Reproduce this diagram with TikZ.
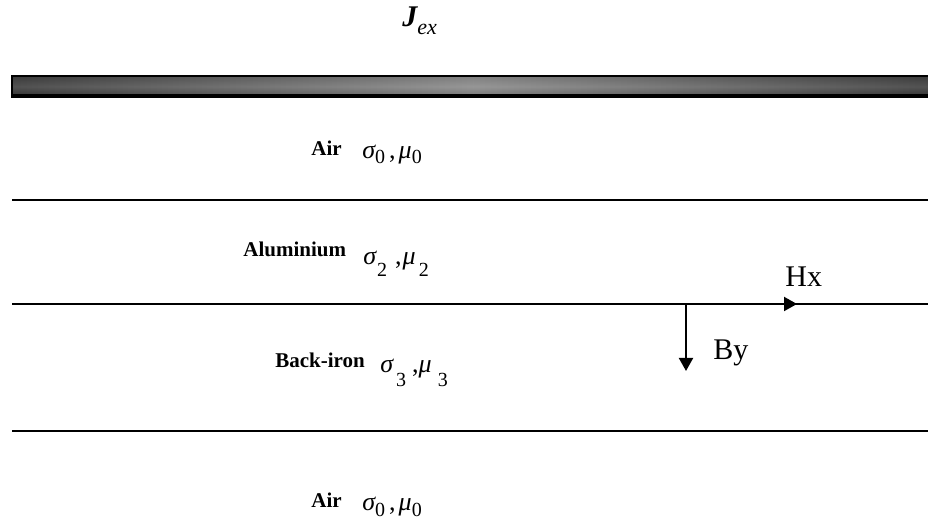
\documentclass[tikz,border=0pt]{standalone}
\usepackage{fontspec}
\setmainfont{Liberation Serif}
\usetikzlibrary{arrows.meta}

\newcommand{\subdig}[2]{\raisebox{-#1}{\upshape\fontsize{10}{10}\selectfont #2}}

\begin{document}
\begin{tikzpicture}[x=0.5pt, y=-0.5pt,
    boundary/.style={line width=0.9pt},
    layername/.style={anchor=base west, inner sep=0pt, font=\fontsize{10.5}{12}\selectfont\bfseries},
    param/.style={anchor=base west, inner sep=0pt, font=\fontsize{13}{15}\selectfont\itshape},
    field/.style={anchor=base west, inner sep=0pt, font=\fontsize{15}{18}\selectfont},
    vec/.style={line width=1pt, -{Triangle[length=6.5pt, width=7pt]}}]
    \useasboundingbox (0,0) rectangle (928,522);

    \node[anchor=base west, inner sep=0pt, font=\fontsize{15}{18}\selectfont\bfseries\itshape] (jex) at (402,27) {J\raisebox{-4pt}{\fontsize{11}{11}\selectfont\mdseries ex}};

    \shade[left color=black!80, right color=black!80, middle color=black!48] (12,76) rectangle (934,97);
    \shade[top color=black!60, bottom color=black!90, middle color=white, fill opacity=0.15] (12,76) rectangle (934,97);
    \draw[line width=0.8pt] (12,76) rectangle (934,97);
    \draw[line width=1.5pt] (12,96) -- (934,96);

    \coordinate (l1w) at (12,200);
    \coordinate (l1e) at (928,200);
    \coordinate (l2w) at (12,304);
    \coordinate (l2e) at (928,304);
    \coordinate (l3w) at (12,431);
    \coordinate (l3e) at (928,431);
    \draw[boundary] (l1w) -- (l1e);
    \draw[boundary] (l2w) -- (l2e);
    \draw[boundary] (l3w) -- (l3e);

    \node[layername] (air0) at (311,156) {Air};
    \node[param] (air0p) at (362,159) {σ\subdig{2.5pt}{0}\hspace{2pt}{\upshape,}\hspace{1.5pt}μ\subdig{2.5pt}{0}};

    \node[layername] (alu) at (243,257) {Aluminium};
    \node[param] (alup) at (363,265) {σ\hspace{0.5pt}\subdig{6pt}{2}\hspace{4pt}{\upshape,}\hspace{0.5pt}μ\hspace{1.5pt}\subdig{6pt}{2}};

    \node[layername] (iron) at (275,368) {Back-iron};
    \node[param] (ironp) at (380,373) {σ\hspace{1.5pt}\subdig{7pt}{3}\hspace{3pt}{\upshape,}μ\hspace{3pt}\subdig{7pt}{3}};

    \node[layername] (air1) at (311,508) {Air};
    \node[param] (air1p) at (362,511) {σ\subdig{3pt}{0}\hspace{2pt}{\upshape,}\hspace{1.5pt}μ\subdig{3pt}{0}};

    \coordinate (orig) at (686,304);
    \coordinate (hxtip) at (797,304);
    \coordinate (bytip) at (686,371);
    \draw[vec] (orig) -- (hxtip);
    \draw[vec] (orig) -- (bytip);
    \node[field] (hx) at (785,287) {Hx};
    \node[field] (by) at (713,360) {By};
\end{tikzpicture}
\end{document}
